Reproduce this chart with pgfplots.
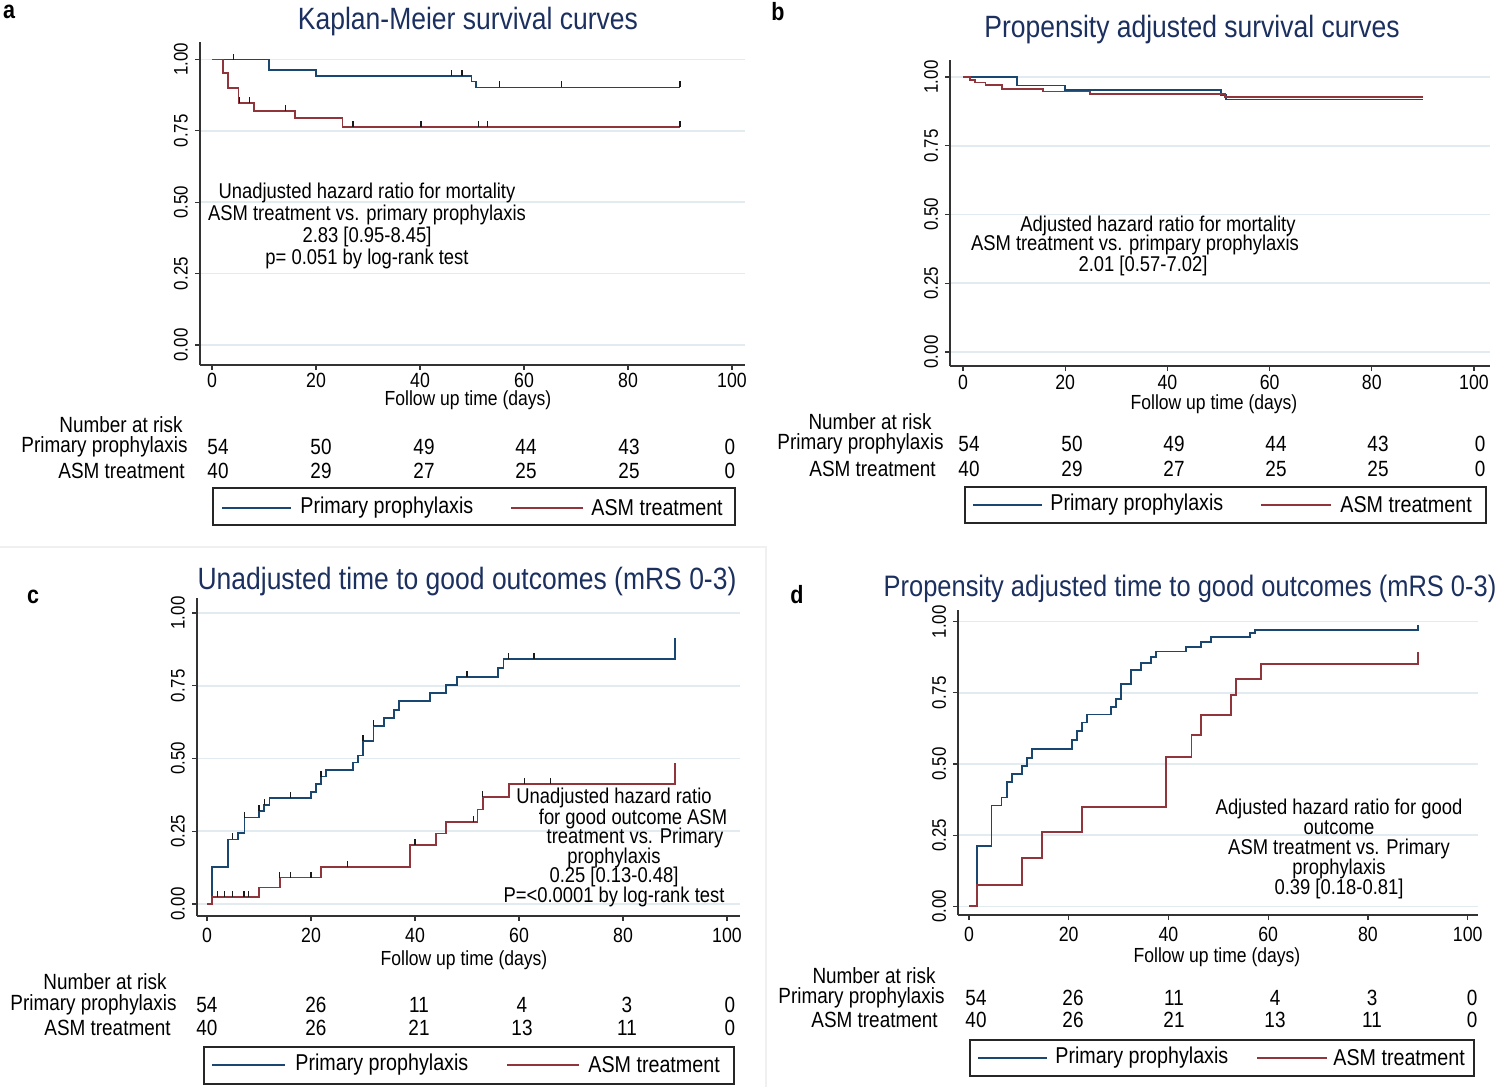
\documentclass[border=0pt]{standalone}
\usepackage{fontspec}
\setmainfont{Liberation Sans}[FakeStretch=0.86]
\usepackage{pgfplots}
\pgfplotsset{compat=1.18}

\definecolor{kmblue}{RGB}{26,71,111}
\definecolor{kmred}{RGB}{144,53,59}
\definecolor{ttl}{RGB}{28,48,95}
\definecolor{grd}{RGB}{226,235,240}
\newcommand{\fsz}[2]{\fontsize{#1}{#2}\selectfont}

\pgfdeclareplotmark{cens}{\pgfpathmoveto{\pgfqpoint{0pt}{0pt}}\pgfpathlineto{\pgfqpoint{0pt}{3pt}}\pgfusepathqstroke}

\pgfplotsset{kmaxis/.style={
  scale only axis, anchor=south west,
  axis x line*=bottom, axis y line*=left,
  axis line style={-, black!80, line width=0.7pt},
  tick align=outside, major tick length=2.5pt,
  tick style={black!80, line width=0.6pt},
  xtick={0,20,40,60,80,100}, xticklabels={0,20,40,60,80,100},
  ytick={0,0.25,0.5,0.75,1}, yticklabels={0.00,0.25,0.50,0.75,1.00},
  ymajorgrids, grid style={grd, line width=0.8pt},
  xticklabel style={font=\fsz{10.3}{10.3}},
  yticklabel style={rotate=90, anchor=south, font=\fsz{9.8}{9.8}},
  clip=false,
}}
\pgfplotsset{
  bl/.style={kmblue, line width=0.9pt, const plot, mark=none},
  rd/.style={kmred, line width=0.9pt, const plot, mark=none},
  cm/.style={only marks, mark=cens, black!90, mark options={line width=0.65pt}},
}

\begin{document}
\begin{tikzpicture}[x=0.5pt, y=-0.5pt]
\path[use as bounding box] (0,0) rectangle (1500,1087);
\draw[gray!12, line width=0.6pt] (0,547) -- (766,547) -- (766,1087);

% ---------------- Panel a ----------------
\begin{axis}[kmaxis, at={(100pt,-182.5pt)}, width=272.5pt, height=161.5pt,
  xmin=-2.308, xmax=102.5, ymin=-0.070, ymax=1.0613,
  xticklabel style={yshift=2pt}]
\addplot[bl] coordinates {(0,1) (11.0,0.962) (20.0,0.943) (49.9,0.923) (50.8,0.902) (90,0.902)};
\addplot[rd] coordinates {(0,1) (2.1,0.952) (3.1,0.899) (5.1,0.849) (8.1,0.821) (16.0,0.794) (25.1,0.765) (90,0.765)};
\addplot[cm] coordinates {(4.2,1) (46.1,0.943) (48.1,0.943) (55.3,0.902) (67.2,0.902) (90,0.902)};
\addplot[cm] coordinates {(5.3,0.849) (7.2,0.849) (14.2,0.821) (27.1,0.765) (40.2,0.765) (51.2,0.765) (53.0,0.765) (90,0.765)};
\end{axis}

% ---------------- Panel b ----------------
\begin{axis}[kmaxis, at={(475pt,-183pt)}, width=270pt, height=153pt,
  xmin=-2.544, xmax=103.13, ymin=-0.0509, ymax=1.0618,
  xticklabel style={yshift=1.5pt}]
\addplot[bl] coordinates {(0,1) (10.6,0.969) (19.9,0.952) (50.5,0.936) (51.5,0.918) (90,0.918)};
\addplot[rd] coordinates {(0,1) (1.4,0.990) (2.4,0.980) (4.4,0.970) (7.6,0.956) (15.7,0.947) (24.9,0.938) (51.3,0.928) (90,0.928)};
\end{axis}

% ---------------- Panel c ----------------
\begin{axis}[kmaxis, at={(98.5pt,-458pt)}, width=271.5pt, height=159pt,
  xmin=-1.923, xmax=102.5, ymin=-0.0412, ymax=1.0515]
\addplot[bl] coordinates {(0,0) (0.95,0.128) (4.1,0.222) (6.0,0.243) (7.2,0.297) (10.0,0.321) (11.0,0.341) (12.0,0.364) (20.0,0.386) (20.9,0.412) (21.9,0.438) (22.9,0.461) (28.0,0.486) (29.0,0.510) (30.0,0.561) (32.0,0.612) (34.0,0.639) (35.9,0.667) (36.9,0.697) (42.9,0.725) (46.0,0.752) (48.0,0.779) (56.0,0.811) (57.0,0.842) (90,0.842) (90,0.914)};
\addplot[rd] coordinates {(0,0) (0.95,0.025) (10.0,0.057) (14.0,0.091) (21.9,0.126) (39.0,0.202) (44.0,0.242) (46.0,0.282) (52.0,0.325) (53.0,0.367) (58.0,0.412) (90,0.412) (90,0.484)};
\addplot[cm] coordinates {(4.9,0.222) (7.2,0.297) (10.0,0.321) (11.0,0.341) (16.0,0.364) (21.9,0.438) (30.0,0.561) (32.0,0.612) (50.0,0.779) (58.0,0.842) (62.9,0.842)};
\addplot[cm] coordinates {(2.0,0.025) (3.4,0.025) (4.9,0.025) (7.1,0.025) (8.0,0.025) (14.0,0.091) (16.0,0.091) (20.0,0.091) (27.0,0.126) (40.0,0.202) (51.2,0.282) (53.0,0.367) (61.0,0.412) (66.1,0.412)};
\end{axis}

% ---------------- Panel d ----------------
\begin{axis}[kmaxis, at={(479pt,-457.5pt)}, width=260pt, height=152.5pt,
  xmin=-2.206, xmax=102.07, ymin=-0.0306, ymax=1.041]
\addplot[bl] coordinates {(0,0) (1.6,0.211) (4.5,0.354) (6.5,0.382) (7.6,0.438) (8.7,0.465) (10.7,0.494) (11.7,0.522) (12.7,0.553) (20.6,0.585) (21.6,0.616) (22.6,0.646) (23.7,0.674) (28.5,0.701) (29.5,0.729) (30.5,0.780) (32.5,0.829) (34.5,0.855) (36.5,0.875) (37.5,0.895) (43.5,0.912) (46.5,0.929) (48.5,0.945) (56.4,0.959) (57.4,0.972) (90,0.972) (90,0.988)};
\addplot[rd] coordinates {(0,0) (1.6,0.076) (10.6,0.171) (14.6,0.260) (22.6,0.350) (39.5,0.525) (44.6,0.602) (46.5,0.673) (52.5,0.741) (53.5,0.800) (58.5,0.850) (90,0.850) (90,0.895)};
\end{axis}

\begin{scope}[every node/.style={inner sep=0pt}]
% panel letters
\node[font=\fsz{12.5}{12.5}\bfseries] at (9,12) {a};
\node[font=\fsz{12.5}{12.5}\bfseries] at (778,12) {b};
\node[font=\fsz{12.5}{12.5}\bfseries] at (33,597) {c};
\node[font=\fsz{12.5}{12.5}\bfseries] at (797,595) {d};
% titles
\node[font=\fsz{15.4}{17}, text=ttl] at (468,22) {Kaplan-Meier survival curves};
\node[font=\fsz{15.4}{17}, text=ttl] at (1192,30) {Propensity adjusted survival curves};
\node[font=\fsz{15.4}{17}, text=ttl] at (467,582) {Unadjusted time to good outcomes (mRS 0-3)};
\node[font=\fsz{14.8}{17}, text=ttl] at (1190,589) {Propensity adjusted time to good outcomes (mRS 0-3)};
% axis titles
\node[font=\fsz{10.2}{11}] at (468,400) {Follow up time (days)};
\node[font=\fsz{10.2}{11}] at (1214,404) {Follow up time (days)};
\node[font=\fsz{10.2}{11}] at (464,960) {Follow up time (days)};
\node[font=\fsz{10.2}{11}] at (1217,957) {Follow up time (days)};
% annotations
\node[font=\fsz{10.7}{10.85}, align=center] at (367,226) {Unadjusted hazard ratio for mortality\\ASM treatment vs. primary prophylaxis\\2.83 [0.95-8.45]\\p= 0.051 by log-rank test};
\node[font=\fsz{10.7}{11}] at (1158,226) {Adjusted hazard ratio for mortality};
\node[font=\fsz{10.7}{11}] at (1135,245) {ASM treatment vs. primpary prophylaxis};
\node[font=\fsz{10.7}{11}] at (1143,266) {2.01 [0.57-7.02]};
\node[font=\fsz{10.7}{11}] at (614,798) {Unadjusted hazard ratio};
\node[font=\fsz{10.7}{11}] at (633,819) {for good outcome ASM};
\node[font=\fsz{10.7}{11}] at (635,838) {treatment vs. Primary};
\node[font=\fsz{10.7}{11}] at (614,858) {prophylaxis};
\node[font=\fsz{10.7}{11}] at (614,877) {0.25 [0.13-0.48]};
\node[font=\fsz{10.7}{11}] at (614,897) {P=<0.0001 by log-rank test};
\node[font=\fsz{10.7}{10}, align=center] at (1339,849) {Adjusted hazard ratio for good\\outcome\\ASM treatment vs. Primary\\prophylaxis\\0.39 [0.18-0.81]};
% number at risk tables
\begin{scope}[font=\fsz{11}{12}]
\node at (121,425) {Number at risk};
\node[anchor=east] at (188,447) {Primary prophylaxis};
\node[anchor=east] at (185,471) {ASM treatment};
\foreach \x/\t in {218/54,321/50,424/49,526/44,629/43,730/0} \node at (\x,447) {\t};
\foreach \x/\t in {218/40,321/29,424/27,526/25,629/25,730/0} \node at (\x,471) {\t};
\node at (870,422) {Number at risk};
\node[anchor=east] at (944,444) {Primary prophylaxis};
\node[anchor=east] at (936,469) {ASM treatment};
\foreach \x/\t in {969/54,1072/50,1174/49,1276/44,1378/43,1480/0} \node at (\x,444) {\t};
\foreach \x/\t in {969/40,1072/29,1174/27,1276/25,1378/25,1480/0} \node at (\x,469) {\t};
\node at (105,982) {Number at risk};
\node[anchor=east] at (177,1005) {Primary prophylaxis};
\node[anchor=east] at (171,1028) {ASM treatment};
\foreach \x/\t in {207/54,316/26,419/11,522/4,627/3,730/0} \node at (\x,1005) {\t};
\foreach \x/\t in {207/40,316/26,419/21,522/13,627/11,730/0} \node at (\x,1028) {\t};
\node at (874,976) {Number at risk};
\node[anchor=east] at (945,998) {Primary prophylaxis};
\node[anchor=east] at (938,1020) {ASM treatment};
\foreach \x/\t in {976/54,1073/26,1174/11,1275/4,1372/3,1472/0} \node at (\x,998) {\t};
\foreach \x/\t in {976/40,1073/26,1174/21,1275/13,1372/11,1472/0} \node at (\x,1020) {\t};
\end{scope}
% legends
\begin{scope}[font=\fsz{11.45}{12}]
\draw[black!85, line width=0.7pt] (213,488) rectangle (735,525);
\draw[kmblue, line width=0.9pt] (222,508) -- (291,508);
\node[anchor=west] at (300,508) {Primary prophylaxis};
\draw[kmred, line width=0.9pt] (511,508) -- (583,508);
\node[anchor=west] at (591,508) {ASM treatment};
\draw[black!85, line width=0.7pt] (965,487) rectangle (1486,523);
\draw[kmblue, line width=0.9pt] (973,505) -- (1042,505);
\node[anchor=west] at (1050,505) {Primary prophylaxis};
\draw[kmred, line width=0.9pt] (1261,505) -- (1331,505);
\node[anchor=west] at (1340,505) {ASM treatment};
\draw[black!85, line width=0.7pt] (204,1047) rectangle (734,1084);
\draw[kmblue, line width=0.9pt] (212,1065) -- (285,1065);
\node[anchor=west] at (295,1065) {Primary prophylaxis};
\draw[kmred, line width=0.9pt] (507,1065) -- (579,1065);
\node[anchor=west] at (588,1065) {ASM treatment};
\draw[black!85, line width=0.7pt] (970,1040) rectangle (1474,1076);
\draw[kmblue, line width=0.9pt] (978,1058) -- (1047,1058);
\node[anchor=west] at (1055,1058) {Primary prophylaxis};
\draw[kmred, line width=0.9pt] (1257,1058) -- (1327,1058);
\node[anchor=west] at (1333,1058) {ASM treatment};
\end{scope}
\end{scope}
\end{tikzpicture}
\end{document}
